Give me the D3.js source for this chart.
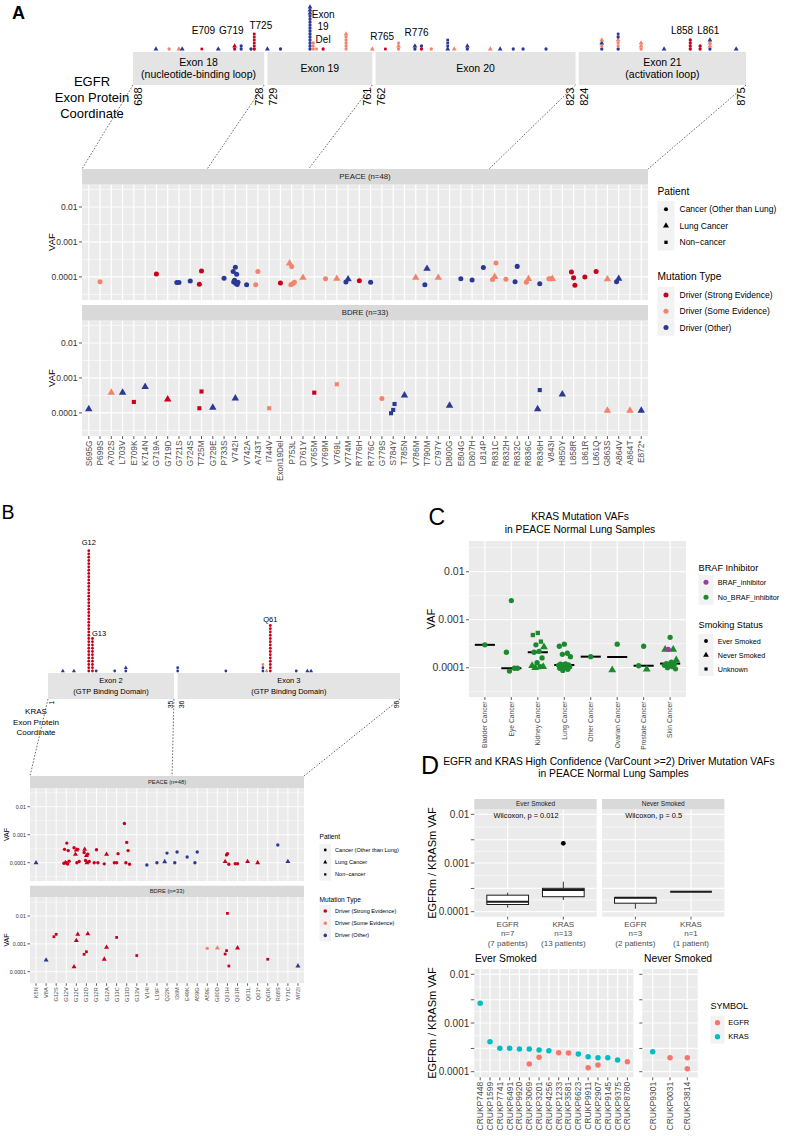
<!DOCTYPE html>
<html><head><meta charset="utf-8">
<script src="https://cdn.jsdelivr.net/npm/d3@7"></script>
<style>body{margin:0;background:#fff}svg{display:block}</style>
</head><body>
<svg id="fig" width="800" height="1136"></svg>
<script>
// ================= DATA =================
const mutationTypes = ["Driver (Strong Evidence)","Driver (Some Evidence)","Driver (Other)"];
const mutationCodes = ["r","s","b"];
const patientTypes = ["Cancer (Other than Lung)","Lung Cancer","Non\u2212cancer"];
const patientCodes = ["c","t","q"];

// ---- Panel A: EGFR ----
const egfrExonName = ["Exon 18","Exon 19","Exon 20","Exon 21"];
const egfrExonSub = ["(nucleotide-binding loop)","","","(activation loop)"];
const egfrExonStart = [688,729,762,824];
const egfrExonEnd = [728,761,823,875];
const egfrBounds = [688,728,761,823,875];
const egfrCats = ["S695G","P699S","A702S","L703V","E709K","K714N","G719A","G719D","G721S","G724S","T725M","G729E","P733S","V742I","V742A","A743T","I744V","Exon19Del","P753L","D761Y","V765M","V769M","V769L","V774M","R776H","R776C","G779S","S784Y","T785N","V786M","T790M","C797Y","D800G","E804G","D807H","L814P","R831C","R832H","R832C","R836C","R836H","V843I","H850Y","L858R","L861R","L861Q","G863S","A864V","A864T","E872*"];
const egfrLolliPos = [695,699,702,703,709,714,719,721,724,725,729,733,742,743,744,746,753,761,765,769,774,776,779,784,786,790,797,800,804,807,814,831,836,843,850,858,861,864,872];
const egfrLolliStack = ["bt","sc","st","bt","rq","bt","rc rt","bc bc","bc","rc rq*5","bt","bc","bc*12 bt*3","sc sq sc","sq","rc","sc*5 st","st","rq","sc st sq","bc bt","rc bc","sc","bt bq*3","st","bc bt","st","bt","bc","bc","bc","bc sc bt st","bc sc sc st bc bq","sc st st","bt","rc*4","rc*2","bc st st bt","bt"];
const egfrLolliLabel = ["E709","G719","T725","Exon|19|Del","R765","R776","L858","L861"];
const egfrLolliLabelPos = [709.5,718,727,746,764,774.5,855.5,863.5];
const egfrPeace = [
["P699S",7.3e-5,"c","s"],["G719A",1.22e-4,"c","r"],["G721S",6.9e-5,"c","b"],["G721S",6.9e-5,"c","b"],
["G724S",7.6e-5,"c","b"],["T725M",1.48e-4,"c","r"],["T725M",6.2e-5,"c","r"],["P733S",9.2e-5,"c","b"],
["V742I",1.9e-4,"c","b"],["V742I",1.42e-4,"c","b"],["V742I",1.19e-4,"c","b"],["V742I",8.0e-5,"c","b"],
["V742I",7.0e-5,"c","b"],["V742I",6.5e-5,"c","b"],["V742I",7.2e-5,"c","b"],["V742I",6.1e-5,"c","b"],
["V742A",6.0e-5,"c","b"],["A743T",1.42e-4,"c","s"],["A743T",6.0e-5,"c","s"],["Exon19Del",6.7e-5,"c","r"],
["P753L",1.97e-4,"c","s"],["P753L",2.46e-4,"t","s"],["P753L",6.5e-5,"c","s"],["P753L",6.0e-5,"c","s"],
["P753L",7.0e-5,"c","s"],["D761Y",9.5e-5,"t","s"],["V769M",8.9e-5,"c","s"],["V769L",8.9e-5,"t","s"],
["V774M",8.6e-5,"t","b"],["V774M",7.2e-5,"c","b"],["R776H",7.8e-5,"c","r"],["R776C",7.0e-5,"c","b"],
["V786M",9.5e-5,"t","s"],["T790M",1.72e-4,"t","b"],["T790M",6.0e-5,"c","b"],["C797Y",9.5e-5,"t","s"],
["E804G",8.9e-5,"c","b"],["D807H",8.2e-5,"c","b"],["L814P",1.85e-4,"c","b"],["R831C",1.0e-4,"t","s"],
["R831C",8.4e-5,"c","s"],["R831C",2.5e-4,"c","s"],["R832H",8.6e-5,"c","s"],["R832C",2.0e-4,"c","b"],
["R832C",7.3e-5,"c","b"],["R836C",8.8e-5,"t","s"],["R836C",7.0e-5,"c","s"],["R836H",6.4e-5,"c","b"],
["V843I",8.8e-5,"c","s"],["V843I",8.8e-5,"c","s"],["V843I",8.8e-5,"t","s"],["L858R",9.4e-5,"c","r"],
["L858R",1.39e-4,"c","r"],["L858R",5.8e-5,"c","r"],["L861R",1.0e-4,"c","r"],["L861Q",1.42e-4,"c","r"],
["G863S",8.6e-5,"t","s"],["A864V",8.9e-5,"t","b"],["A864V",7.3e-5,"c","b"]];
const egfrBdre = [
["S695G",1.28e-4,"t","b"],["A702S",3.8e-4,"t","s"],["L703V",3.8e-4,"t","b"],["E709K",2.06e-4,"q","r"],
["K714N",5.6e-4,"t","b"],["G719D",2.46e-4,"t","r"],["T725M",4.1e-4,"q","r"],["T725M",1.36e-4,"q","r"],
["G729E",1.42e-4,"t","b"],["V742I",2.63e-4,"t","b"],["I744V",1.36e-4,"q","s"],["V765M",3.8e-4,"q","r"],
["V769L",6.6e-4,"q","s"],["G779S",2.57e-4,"c","s"],["S784Y",1.22e-4,"q","b"],["S784Y",9.8e-5,"q","b"],
["S784Y",1.8e-4,"q","b"],["T785N",3.2e-4,"t","b"],["D800G",1.62e-4,"t","b"],["R836H",4.5e-4,"q","b"],
["R836H",1.28e-4,"t","b"],["H850Y",3.4e-4,"t","b"],["G863S",1.16e-4,"t","s"],["A864T",1.16e-4,"t","s"],
["E872*",1.16e-4,"t","b"]];

// ---- Panel B: KRAS ----
const krasExonName = ["Exon 2","Exon 3"];
const krasExonSub = ["(GTP Binding Domain)","(GTP Binding Domain)"];
const krasExonStart = [1,36];
const krasExonEnd = [35,96];
const krasBounds = [1,35,96];
const krasCats = ["K5N","V8A","G12S","G12V","G12C","G12D","G12R","G12A","G13C","G13D","G13V","V14I","L19F","Q22K","I36M","E49K","A59G","A59E","G60D","Q61H","Q61R","Q61L","Q61*","Q61K","R68S","Y71C","M72I"];
const krasLolliPos = [5,8,12,13,14,19,22,36,49,59,60,61,68,71,72];
const krasLolliStack = ["bt","bt","rc*38","rc*11","bc","bc","bc bt","bc bc","bc","bc bc sc","st","rc*15","bc","bt","bt"];
const krasLolliLabel = ["G12","G13","Q61"];
const krasLolliLabelPos = [12,14.8,61];
const krasPeace = [
["K5N",9.9e-5,"t","b"],
["G12V",1.0e-4,"c","r"],["G12V",9.5e-5,"c","r"],["G12V",9.0e-5,"c","r"],["G12V",1.0e-4,"t","r"],
["G12V",1.12e-4,"c","r"],["G12V",5.0e-4,"c","r"],["G12V",3.0e-4,"c","r"],["G12V",2.7e-4,"c","r"],
["G12C",2.8e-4,"t","r"],["G12C",3.4e-4,"c","r"],["G12C",3.0e-4,"c","r"],["G12C",2.0e-4,"t","r"],
["G12C",1.1e-4,"c","r"],["G12C",9.9e-5,"c","r"],
["G12D",1.8e-4,"t","r"],["G12D",2.3e-4,"c","r"],["G12D",2.0e-4,"c","r"],["G12D",1.2e-4,"c","r"],
["G12D",1.1e-4,"c","r"],["G12D",9.9e-5,"t","r"],["G12D",3.0e-4,"t","r"],
["G12R",2.9e-4,"c","r"],["G12R",1.0e-4,"c","r"],["G12R",1.0e-4,"c","r"],
["G12A",2.0e-4,"t","r"],["G12A",9.1e-5,"c","r"],
["G13C",1.0e-4,"c","r"],["G13C",1.0e-4,"c","r"],["G13C",2.1e-4,"c","r"],
["G13D",5.3e-4,"c","r"],["G13D",2.5e-3,"c","r"],["G13D",2.7e-4,"c","r"],["G13D",1.0e-4,"c","r"],["G13D",8.8e-5,"c","r"],
["V14I",8.3e-5,"c","b"],["L19F",1.0e-4,"c","b"],["Q22K",2.2e-4,"c","b"],["Q22K",1.08e-4,"t","b"],
["I36M",2.4e-4,"c","b"],["I36M",1.0e-4,"c","b"],["E49K",1.6e-4,"c","b"],["A59G",2.4e-4,"c","b"],["A59G",1.0e-4,"c","b"],
["Q61H",2.1e-4,"c","r"],["Q61H",1.1e-4,"t","r"],["Q61H",8.8e-5,"c","r"],["Q61H",1.9e-4,"c","r"],
["Q61R",9.2e-5,"c","r"],["Q61R",9.2e-5,"c","r"],["Q61L",1.1e-4,"t","r"],["Q61*",1.0e-4,"t","r"],
["R68S",4.3e-4,"c","b"],["Y71C",1.1e-4,"t","b"]];
const krasBdre = [
["V8A",2.6e-4,"t","b"],["G12S",2.2e-3,"q","r"],["G12S",1.8e-3,"q","r"],
["G12C",1.3e-3,"t","r"],["G12C",1.5e-4,"t","r"],["G12C",2.2e-3,"t","r"],
["G12D",5.2e-4,"q","r"],["G12D",4.2e-4,"q","r"],["G12D",2.3e-3,"t","r"],
["G12A",7.5e-4,"t","r"],["G12A",2.8e-4,"t","r"],["G13C",1.7e-3,"q","r"],["G13V",3.8e-4,"q","r"],
["A59E",6.9e-4,"c","s"],["G60D",7.0e-4,"t","s"],
["Q61H",1.24e-2,"q","r"],["Q61H",4.3e-4,"q","r"],["Q61H",1.6e-4,"q","r"],["Q61H",5.7e-4,"q","r"],
["Q61R",7.1e-4,"t","r"],["Q61K",2.8e-4,"q","r"],["M72I",1.6e-4,"t","b"]];

// ---- Panel C ----
const cCats = ["Bladder Cancer","Eye Cancer","Kidney Cancer","Lung Cancer","Other Cancer","Ovarian Cancer","Prostate Cancer","Skin Cancer"];
const cBrafLevels = ["BRAF_inhibitor","No_BRAF_inhibitor"];
const cSmokeLevels = ["Ever Smoked","Never Smoked","Unknown"];
const cPoints = [
["Bladder Cancer",3.0e-4,"c",0],
["Eye Cancer",2.5e-3,"c",0],["Eye Cancer",2.1e-4,"c",0],["Eye Cancer",9.75e-5,"c",0],["Eye Cancer",8.5e-5,"c",0],["Eye Cancer",9.75e-5,"c",0],
["Kidney Cancer",5.3e-4,"q",0],["Kidney Cancer",4.8e-4,"q",0],["Kidney Cancer",3.5e-4,"q",0],["Kidney Cancer",3.0e-4,"c",0],
["Kidney Cancer",2.7e-4,"t",0],["Kidney Cancer",2.2e-4,"c",0],["Kidney Cancer",2.1e-4,"c",0],["Kidney Cancer",1.6e-4,"c",0],
["Kidney Cancer",1.27e-4,"c",0],["Kidney Cancer",1.1e-4,"t",0],["Kidney Cancer",1.05e-4,"c",0],["Kidney Cancer",1.0e-4,"t",0],
["Kidney Cancer",1.05e-4,"t",0],
["Lung Cancer",3.1e-4,"c",0],["Lung Cancer",2.8e-4,"c",0],["Lung Cancer",2.0e-4,"c",0],["Lung Cancer",1.9e-4,"c",0],
["Lung Cancer",1.7e-4,"c",0],["Lung Cancer",1.2e-4,"c",0],["Lung Cancer",1.18e-4,"c",0],["Lung Cancer",1.15e-4,"c",0],
["Lung Cancer",1.14e-4,"c",0],["Lung Cancer",1.12e-4,"c",0],["Lung Cancer",1.1e-4,"c",0],["Lung Cancer",1.08e-4,"c",0],
["Lung Cancer",1.05e-4,"c",0],["Lung Cancer",1.0e-4,"c",0],["Lung Cancer",9.7e-5,"c",0],["Lung Cancer",9.3e-5,"c",0],
["Lung Cancer",8.8e-5,"c",0],
["Other Cancer",1.7e-4,"c",0],
["Ovarian Cancer",3.1e-4,"c",0],["Ovarian Cancer",9.0e-5,"t",0],
["Prostate Cancer",2.8e-4,"c",0],["Prostate Cancer",1.1e-4,"c",0],["Prostate Cancer",9.3e-5,"t",0],
["Skin Cancer",4.3e-4,"c",0],["Skin Cancer",2.4e-4,"t",0],["Skin Cancer",2.4e-4,"t",0],["Skin Cancer",2.4e-4,"c",1],
["Skin Cancer",1.45e-4,"t",0],["Skin Cancer",1.3e-4,"c",0],["Skin Cancer",1.22e-4,"c",0],["Skin Cancer",1.2e-4,"c",0],
["Skin Cancer",1.18e-4,"c",0],["Skin Cancer",1.12e-4,"c",0],["Skin Cancer",1.05e-4,"c",0],["Skin Cancer",1.0e-4,"c",0],
["Skin Cancer",9.5e-5,"c",0]];

// ---- Panel D ----
const dGroups = ["Ever Smoked","Never Smoked"];
const dGenes = ["EGFR","KRAS"];
const dWilcoxon = ["Wilcoxon, p = 0.012","Wilcoxon, p = 0.5"];
const dEverPatients = ["CRUKP7448","CRUKP1599","CRUKP7741","CRUKP6491","CRUKP9920","CRUKP3069","CRUKP3201","CRUKP4256","CRUKP1233","CRUKP3581","CRUKP6623","CRUKP9911","CRUKP2907","CRUKP9145","CRUKP9375","CRUKP8780"];
const dNeverPatients = ["CRUKP9301","CRUKP0031","CRUKP3814"];
const dEver = [
["CRUKP7448","KRAS",2.54e-3],["CRUKP1599","KRAS",4.13e-4],["CRUKP7741","KRAS",3.02e-4],["CRUKP6491","KRAS",3.02e-4],
["CRUKP9920","KRAS",2.92e-4],["CRUKP3069","KRAS",2.92e-4],["CRUKP3069","EGFR",1.44e-4],["CRUKP3201","KRAS",2.79e-4],
["CRUKP3201","EGFR",1.97e-4],["CRUKP4256","KRAS",2.70e-4],["CRUKP1233","EGFR",2.46e-4],["CRUKP3581","EGFR",2.42e-4],
["CRUKP6623","KRAS",2.31e-4],["CRUKP9911","KRAS",2.03e-4],["CRUKP9911","EGFR",1.21e-4],["CRUKP2907","KRAS",1.94e-4],
["CRUKP2907","EGFR",1.37e-4],["CRUKP9145","KRAS",1.94e-4],["CRUKP9375","KRAS",1.74e-4],["CRUKP8780","EGFR",1.60e-4]];
const dNever = [["CRUKP9301","KRAS",2.57e-4],["CRUKP0031","EGFR",1.94e-4],["CRUKP3814","EGFR",1.94e-4],["CRUKP3814","EGFR",1.15e-4]];

// ================= STYLE / HELPERS =================
const COL = {r:"#C8001E", s:"#F4836C", b:"#2B3896"};
const GENECOL = {EGFR:"#F8766D", KRAS:"#00BFC4"};
const GREEN = "#1B8A2C", PURPLE = "#9B3C9E";
const PANEL = "#EBEBEB", STRIP = "#D9D9D9", AXT = "#333333", AXG = "#4D4D4D";
const SHP = {c:d3.symbolCircle, t:d3.symbolTriangle, q:d3.symbolSquare};
const SHS = {c:1, t:1.2, q:0.85};
const svg = d3.select("#fig").style("font-family","'Liberation Sans', Arial, Helvetica, sans-serif");

function symPath(sh, area){ return d3.symbol().type(SHP[sh]).size(area*SHS[sh])(); }
function txt(g,x,y,s,size,o={}){
  const t = g.append("text").attr("x",x).attr("y",y).text(s).attr("font-size",size)
    .attr("fill",o.fill||"#000").attr("text-anchor",o.anchor||"start");
  if(o.rot) t.attr("transform",`rotate(${o.rot},${x},${y})`);
  if(o.dy) t.attr("dy",o.dy);
  if(o.weight) t.attr("font-weight",o.weight);
  return t;
}
function ln(g,x1,y1,x2,y2,col,w,dash){
  const l = g.append("line").attr("x1",x1).attr("y1",y1).attr("x2",x2).attr("y2",y2).attr("stroke",col).attr("stroke-width",w);
  if(dash) l.attr("stroke-dasharray",dash);
  return l;
}
function logFmt(v){
  const l = Math.log10(v), e = Math.round(l);
  if(Math.abs(l-e)>1e-6) return "";
  return "0." + "0".repeat(-e-1) + "1";
}
function aaOf(c){ return c.startsWith("Exon19") ? 746 : +c.match(/\d+/)[0]; }

function panel(g,o){
  const x = d3.scalePoint().domain(o.cats).range([o.x0,o.x1]).padding(0.6);
  const y = d3.scaleLog().domain([Math.pow(10,o.lo),Math.pow(10,o.hi)]).range([o.y1,o.y0]);
  g.append("rect").attr("x",o.x0).attr("y",o.y0).attr("width",o.x1-o.x0).attr("height",o.y1-o.y0).attr("fill",PANEL);
  const mw = o.mw||1.1;
  const lm = o.majors.map(Math.log10);
  const mins = [];
  for(let i=0;i<lm.length-1;i++) mins.push((lm[i]+lm[i+1])/2);
  const stepL = lm[1]-lm[0];
  mins.push(lm[0]-stepL/2, lm[lm.length-1]+stepL/2);
  mins.filter(l=>l>o.lo&&l<o.hi).forEach(l=>ln(g,o.x0,y(Math.pow(10,l)),o.x1,y(Math.pow(10,l)),"#fff",mw*0.5));
  o.majors.forEach(v=>ln(g,o.x0,y(v),o.x1,y(v),"#fff",mw));
  o.cats.forEach(c=>ln(g,x(c),o.y0,x(c),o.y1,"#fff",mw));
  if(o.strip){
    g.append("rect").attr("x",o.x0).attr("y",o.y0-o.stripH).attr("width",o.x1-o.x0).attr("height",o.stripH).attr("fill",STRIP);
    txt(g,(o.x0+o.x1)/2,o.y0-o.stripH/2,o.strip,o.stripSize,{anchor:"middle",dy:"0.35em",fill:"#1A1A1A"});
  }
  if(o.yTicks){
    o.majors.forEach(v=>{
      ln(g,o.x0-o.yTicks.len,y(v),o.x0,y(v),AXT,0.8);
      if(o.yTicks.size) txt(g,o.x0-o.yTicks.len-1.5,y(v),logFmt(v),o.yTicks.size,{anchor:"end",dy:"0.35em",fill:AXT});
    });
  }
  if(o.xTicks){
    o.cats.forEach(c=>{
      ln(g,x(c),o.y1,x(c),o.y1+o.xTicks.len,AXT,0.8);
      if(o.xTicks.size) txt(g,x(c),o.y1+o.xTicks.len+1.5,c,o.xTicks.size,{anchor:"end",rot:-90,dy:"0.35em",fill:AXG});
    });
  }
  return {x,y};
}

function jitterOf(k){ return (((k*0.618034)+0.5)%1-0.5)*2; }
function points(g,data,sx,sy,jit,area,colorOf){
  const cnt = {};
  data.forEach(d=>{
    const k = cnt[d[0]] = (cnt[d[0]]===undefined?0:cnt[d[0]]+1);
    const jx = jitterOf(k)*jit;
    g.append("path").attr("d",symPath(d[2],area)).attr("transform",`translate(${sx(d[0])+jx},${sy(d[1])})`).attr("fill",colorOf(d));
  });
}

function lolli(g,pos,stacks,xs,baseY,step,area){
  pos.forEach((p,i)=>{
    const items = [];
    stacks[i].split(" ").forEach(tok=>{
      const [code,n] = tok.split("*");
      for(let k=0;k<(n?+n:1);k++) items.push(code);
    });
    items.forEach((code,k)=>{
      g.append("path").attr("d",symPath(code[1],area)).attr("transform",`translate(${xs(p)},${baseY-k*step})`).attr("fill",COL[code[0]]);
    });
  });
}

function exons(g,names,subs,starts,ends,xs,y0,y1,size,lineH){
  names.forEach((n,i)=>{
    const a = xs(starts[i]), b = xs(ends[i]), cy = (y0+y1)/2;
    g.append("rect").attr("x",a).attr("y",y0).attr("width",b-a).attr("height",y1-y0).attr("fill","#E4E4E4");
    if(subs[i]){
      txt(g,(a+b)/2,cy-lineH/2+size*0.35,n,size,{anchor:"middle"});
      txt(g,(a+b)/2,cy+lineH/2+size*0.35,subs[i],size,{anchor:"middle"});
    } else txt(g,(a+b)/2,cy+size*0.35,n,size,{anchor:"middle"});
  });
}

function coordLabels(g,starts,ends,xs,yTop,size,offS,offE){
  starts.forEach((s,i)=>{
    txt(g,xs(s)+offS,yTop,String(s),size,{anchor:"end",rot:-90,dy:"0.35em"});
    txt(g,xs(ends[i])-offE,yTop,String(ends[i]),size,{anchor:"end",rot:-90,dy:"0.35em"});
  });
}

function connectors(g,bounds,xs,yTop,cats,sx,yBot){
  bounds.forEach(b=>{
    const k = cats.filter(c=>aaOf(c)<=b).length;
    const r = sx.range();
    const xe = k===0 ? r[0] : (k===cats.length ? r[1] : (sx(cats[k-1])+sx(cats[k]))/2);
    ln(g,xs(b),yTop,xe,yBot,"#444",0.8,"1.6,1.6");
  });
}

function legend(g,x,yTitle,title,titleSize,rows,y0,rowH,keyW,textX,textSize,drawKey){
  txt(g,x,yTitle,title,titleSize);
  rows.forEach((r,i)=>{
    const cy = y0+i*rowH;
    g.append("rect").attr("x",x).attr("y",cy-rowH/2).attr("width",keyW).attr("height",rowH).attr("fill","#F2F2F2");
    drawKey(g,x+keyW/2,cy,i);
    txt(g,textX,cy,r,textSize,{dy:"0.35em"});
  });
}
function keyShape(area){ return (g,cx,cy,i)=>g.append("path").attr("d",symPath(patientCodes[i],area)).attr("transform",`translate(${cx},${cy})`).attr("fill","#000"); }
function keyDot(area,cols){ return (g,cx,cy,i)=>g.append("path").attr("d",symPath("c",area)).attr("transform",`translate(${cx},${cy})`).attr("fill",cols[i]); }

const decades = [1e-4,1e-3,1e-2];

// ================= PANEL A =================
{
  const g = svg.append("g");
  txt(g,12,18.5,"A",18,{weight:"bold"});
  const xa = d3.scaleLinear().domain([688,875]).range([133,746]);
  exons(g,egfrExonName,egfrExonSub,egfrExonStart,egfrExonEnd,xa,52,85,10.5,12.5);
  coordLabels(g,egfrExonStart,egfrExonEnd,xa,87.5,11,5.5,5);
  lolli(g,egfrLolliPos,egfrLolliStack,xa,49,3.0,8.5);
  const labY = [33.5,33.5,28.5,null,40,36,33.5,33.5];
  egfrLolliLabel.forEach((l,i)=>{
    if(l.includes("|")){
      const parts = l.split("|"), ys=[18.3,29.8,42.8];
      parts.forEach((p,j)=>txt(g,xa(egfrLolliLabelPos[i]),ys[j],p,10,{anchor:"middle"}));
    } else txt(g,xa(egfrLolliLabelPos[i]),labY[i],l,10,{anchor:"middle"});
  });
  ["EGFR","Exon Protein","Coordinate"].forEach((s,i)=>txt(g,92,85.5+i*16,s,13,{anchor:"middle"}));

  const common = {x0:82,x1:648,lo:-4.66,hi:-1.357,cats:egfrCats,majors:decades,stripH:15.5,stripSize:7.8,mw:1.2};
  const p1 = panel(g,Object.assign({},common,{y0:184.5,y1:300,strip:"PEACE (n=48)",yTicks:{len:3,size:8.5}}));
  connectors(g,egfrBounds,xa,85,egfrCats,p1.x,169);
  points(g,egfrPeace,p1.x,p1.y,2.8,20,d=>COL[d[3]]);
  const p2 = panel(g,Object.assign({},common,{y0:320.5,y1:436,strip:"BDRE (n=33)",yTicks:{len:3,size:8.5},xTicks:{len:3,size:8.3}}));
  points(g,egfrBdre,p2.x,p2.y,2.8,20,d=>COL[d[3]]);
  txt(g,52,242,"VAF",9.5,{anchor:"middle",rot:-90,dy:"0.35em"});
  txt(g,52,378,"VAF",9.5,{anchor:"middle",rot:-90,dy:"0.35em"});

  legend(g,657.5,195,"Patient",10.2,patientTypes,209.3,16.5,17,679.5,8.5,keyShape(13));
  legend(g,657.5,280,"Mutation Type",10.2,mutationTypes,295,16.3,17,679.5,8.5,keyDot(20,mutationCodes.map(c=>COL[c])));
}

// ================= PANEL B =================
{
  const g = svg.append("g");
  txt(g,1.5,518.5,"B",19.5);
  const xs = d3.scaleLinear().domain([1,96]).range([48,400]);
  exons(g,krasExonName,krasExonSub,krasExonStart,krasExonEnd,xs,673,699,7.5,10.5);
  coordLabels(g,krasExonStart,krasExonEnd,xs,700.5,7,3.5,3.5);
  lolli(g,krasLolliPos,krasLolliStack,xs,671,3.25,6);
  const ly = [545,636,621.7];
  krasLolliLabel.forEach((l,i)=>txt(g,xs(krasLolliLabelPos[i]),ly[i],l,7.5,{anchor:"middle"}));
  ["KRAS","Exon Protein","Coordinate"].forEach((s,i)=>txt(g,36,713.8+i*10.7,s,8,{anchor:"middle"}));

  const p1 = panel(g,{x0:30,x1:304,y0:788,y1:881,lo:-4.654,hi:-1.332,cats:krasCats,majors:decades,strip:"PEACE (n=48)",stripH:12,stripSize:5.8,mw:0.9,yTicks:{len:2.5,size:5.3}});
  connectors(g,krasBounds,xs,699,krasCats,p1.x,776);
  points(g,krasPeace,p1.x,p1.y,3,9,d=>COL[d[3]]);
  const p2 = panel(g,{x0:30,x1:304,y0:897,y1:983.3,lo:-4.417,hi:-1.318,cats:krasCats,majors:decades,strip:"BDRE (n=33)",stripH:11.3,stripSize:5.8,mw:0.9,yTicks:{len:2.5,size:5.3},xTicks:{len:2.5,size:5.6}});
  points(g,krasBdre,p2.x,p2.y,3,9,d=>COL[d[3]]);
  txt(g,7,834.5,"VAF",7,{anchor:"middle",rot:-90,dy:"0.35em"});
  txt(g,7,940,"VAF",7,{anchor:"middle",rot:-90,dy:"0.35em"});

  legend(g,319.5,839.3,"Patient",6.6,patientTypes,850,12.2,11.5,335,5.6,keyShape(6));
  legend(g,319.5,901.7,"Mutation Type",6.6,mutationTypes,911,12.2,11.5,335,5.6,keyDot(10,mutationCodes.map(c=>COL[c])));
}

// ================= PANEL C =================
{
  const g = svg.append("g");
  txt(g,428.5,525,"C",23);
  txt(g,580,520,"KRAS Mutation VAFs",10.3,{anchor:"middle"});
  txt(g,580,532.5,"in PEACE Normal Lung Samples",10.3,{anchor:"middle"});
  const p = panel(g,{x0:469,x1:686,y0:541,y1:697,lo:-4.61,hi:-1.36,cats:cCats,majors:decades,mw:1.2,yTicks:{len:3,size:10.5},xTicks:{len:3,size:6.7}});
  cCats.forEach(c=>{
    const v = cPoints.filter(d=>d[0]===c).map(d=>Math.log10(d[1]));
    const m = Math.pow(10,d3.median(v));
    const w = p.x.step()*0.38;
    ln(g,p.x(c)-w,p.y(m),p.x(c)+w,p.y(m),"#000",2);
  });
  points(g,cPoints,p.x,p.y,6.5,22,d=>d[3]?PURPLE:GREEN);
  txt(g,431,619,"VAF",11,{anchor:"middle",rot:-90,dy:"0.35em"});
  legend(g,698.5,570.7,"BRAF Inhibitor",9.2,cBrafLevels,582.3,15,15,717.7,7.2,keyDot(20,[PURPLE,GREEN]));
  legend(g,698.5,628.3,"Smoking Status",9.2,cSmokeLevels,641,14,15,717.7,7.2,keyShape(12));
}

// ================= PANEL D =================
{
  const g = svg.append("g");
  txt(g,421,774,"D",25);
  txt(g,609,764.5,"EGFR and KRAS High Confidence (VarCount >=2) Driver Mutation VAFs",10.3,{anchor:"middle"});
  txt(g,613.5,776.5,"in PEACE Normal Lung Samples",10.3,{anchor:"middle"});
  const dMajors = [1e-4,3e-4,1e-3,3e-3,1e-2];
  const groups = [dEver,dNever];
  const tops = [[474.3,596.7],[602,724.4]];
  groups.forEach((data,gi)=>{
    const [x0,x1] = tops[gi];
    const p = panel(g,{x0,x1,y0:809.3,y1:916.7,lo:-4.103,hi:-1.897,cats:dGenes,majors:dMajors,mw:1.2,strip:dGroups[gi],stripH:10.3,stripSize:6.5,
      yTicks: gi===0?{len:3.5,size:10}:null});
    dGenes.forEach(gene=>{
      const sub = data.filter(d=>d[1]===gene);
      const l = sub.map(d=>Math.log10(d[2])).sort(d3.ascending);
      const q1=d3.quantile(l,0.25), med=d3.quantile(l,0.5), q3=d3.quantile(l,0.75), iqr=q3-q1;
      const lo=d3.min(l.filter(v=>v>=q1-1.5*iqr-1e-9)), hi=d3.max(l.filter(v=>v<=q3+1.5*iqr+1e-9));
      const cx=p.x(gene), hw=p.x.step()*0.375, Y=v=>p.y(Math.pow(10,v));
      ln(g,cx,Y(q3),cx,Y(hi),"#1A1A1A",0.9);
      ln(g,cx,Y(q1),cx,Y(lo),"#1A1A1A",0.9);
      g.append("rect").attr("x",cx-hw).attr("y",Y(q3)).attr("width",2*hw).attr("height",Math.max(0,Y(q1)-Y(q3))).attr("fill","#fff").attr("stroke","#1A1A1A").attr("stroke-width",1);
      ln(g,cx-hw,Y(med),cx+hw,Y(med),"#1A1A1A",2);
      l.filter(v=>v<lo||v>hi).forEach(v=>g.append("path").attr("d",symPath("c",18)).attr("transform",`translate(${cx},${Y(v)})`).attr("fill","#000"));
      ln(g,cx,916.7,cx,919.5,AXT,0.8);
      const np = new Set(sub.map(d=>d[0])).size;
      txt(g,cx,926.5,gene,8,{anchor:"middle",fill:AXG});
      txt(g,cx,936,"n="+sub.length,8,{anchor:"middle",fill:AXG});
      txt(g,cx,945.5,"("+np+" patient"+(np>1?"s":"")+")",8,{anchor:"middle",fill:AXG});
    });
    txt(g,(x0+x1)/2-9.5,818.3,dWilcoxon[gi],7.4,{anchor:"middle"});
  });
  txt(g,432,863,"EGFRm / KRASm VAF",11,{anchor:"middle",rot:-90,dy:"0.35em"});

  txt(g,475,961.7,"Ever Smoked",10.3);
  txt(g,644,961.7,"Never Smoked",10.3);
  const pe = panel(g,{x0:474.3,x1:633.3,y0:969,y1:1077.3,lo:-4.115,hi:-1.891,cats:dEverPatients,majors:dMajors,mw:1.2,yTicks:{len:3.5,size:10},xTicks:{len:3,size:8.5}});
  const pn = panel(g,{x0:642.3,x1:697.7,y0:969,y1:1077.3,lo:-4.115,hi:-1.891,cats:dNeverPatients,majors:dMajors,mw:1.2,yTicks:{len:3,size:0},xTicks:{len:3,size:8.5}});
  [[dEver,pe],[dNever,pn]].forEach(([data,p])=>{
    data.forEach(d=>g.append("path").attr("d",symPath("c",24)).attr("transform",`translate(${p.x(d[0])},${p.y(d[2])})`).attr("fill",GENECOL[d[1]]));
  });
  txt(g,432,1023,"EGFRm / KRASm VAF",11,{anchor:"middle",rot:-90,dy:"0.35em"});
  legend(g,710.5,1009.3,"SYMBOL",9,dGenes,1022.7,14,14,728.3,7.5,keyDot(22,dGenes.map(k=>GENECOL[k])));
}
</script>
</body></html>
